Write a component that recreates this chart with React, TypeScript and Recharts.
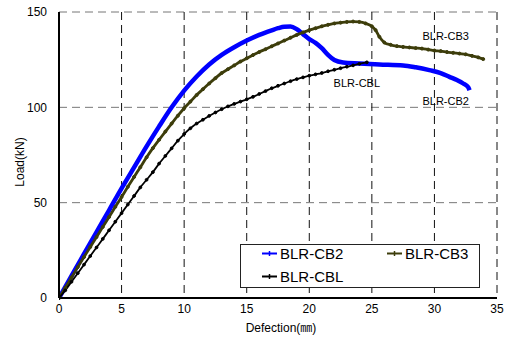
import { LineChart, Line, XAxis, YAxis, CartesianGrid, Legend, ReferenceDot } from 'recharts';

// deflection (mm) / load (kN)
const cb2X = [0, 1, 2, 3, 4, 5, 6, 7, 8, 9, 10, 11, 12, 13, 14, 15, 16, 17, 17.5, 18, 18.5, 19, 19.5, 20, 20.5, 21, 21.5, 22, 22.7, 24, 25.6, 27.5, 28.5, 29.6, 30.5, 31.2, 31.8, 32.3, 32.7, 32.8];
const cb2Y = [0, 11.6, 23.1, 34.6, 46, 57.5, 68.5, 79.5, 90, 100, 108.8, 116.2, 122.5, 127.5, 131.5, 135, 138, 140.4, 141.5, 142.3, 142.4, 141, 138.4, 135.8, 133.8, 131, 127.5, 124.8, 123.5, 123, 122.5, 122, 121, 119.5, 118, 116, 114.3, 112.5, 110.5, 109];

const cb3X = [0, 0.5, 1, 1.5, 2, 2.5, 3, 3.5, 4, 4.5, 5, 5.5, 6, 6.5, 7, 7.5, 8, 8.5, 9, 9.5, 10, 10.5, 11, 11.5, 12, 12.5, 13, 13.5, 14, 14.5, 15, 15.5, 16, 16.5, 17, 17.5, 18, 18.5, 19, 19.5, 20, 20.5, 21, 21.5, 22, 22.5, 23, 23.5, 24, 24.5, 25, 25.3, 25.6, 26, 26.5, 27, 27.5, 28, 28.5, 29, 29.5, 30, 30.5, 31, 31.5, 32, 32.5, 33, 33.5, 33.9];
const cb3Y = [0, 5.4, 10.8, 16.2, 21.5, 26.8, 32, 37.3, 42.5, 47.8, 53, 58.3, 63.5, 68.6, 73.8, 78.6, 83, 87.3, 91.5, 95.6, 99.5, 103, 106.5, 109.5, 112.5, 115.3, 118, 120, 122, 124, 125.7, 127.4, 129, 130.5, 132, 133.5, 135, 136.5, 138, 139.3, 140.5, 141.5, 142.5, 143.3, 144, 144.4, 144.8, 145, 144.8, 144, 142.5, 140.5, 137, 134, 132.8, 132.1, 131.7, 131.4, 131.1, 130.8, 130.3, 129.8, 129.5, 129, 128.6, 128.2, 127.8, 127, 126.2, 125.3];

const cblX = [0, 0.5, 1, 1.5, 2, 2.5, 3, 3.5, 4, 4.5, 5, 5.5, 6, 6.5, 7, 7.5, 8, 8.5, 9, 9.5, 10, 10.5, 11, 11.5, 12, 12.5, 13, 13.5, 14, 14.5, 15, 15.5, 16, 16.5, 17, 17.5, 18, 18.5, 19, 19.5, 20, 20.5, 21, 21.5, 22, 22.5, 23, 23.5, 24, 24.6];
const cblY = [0, 4, 8.5, 13, 17.5, 22, 26.5, 31, 35.5, 40, 44.5, 49, 53.5, 58, 62, 66, 70.5, 74.5, 78.5, 82.5, 86, 89, 91.5, 93.5, 95.5, 97.3, 99, 100.5, 101.8, 103, 104.2, 105.5, 107, 108.5, 110, 111.3, 112.5, 113.7, 114.8, 115.7, 116.6, 117.3, 118, 118.9, 119.7, 120.5, 121.3, 122, 122.8, 123.6];

const xTicks = [0, 5, 10, 15, 20, 25, 30, 35];
const yTicks = [0, 50, 100, 150];

// curve labels written inside the plot
const tagNames = ['BLR-CB3', 'BLR-CBL', 'BLR-CB2'];
const tagX = [30.9, 23.8, 30.9];
const tagY = [137.4, 112.9, 103.4];

const toPoints = (xs: number[], ys: number[]) => xs.map((x, i) => ({ x, y: ys[i] }));

const BLUE = '#0000ff';
const OLIVE = '#3d3d0b';
const BLACK = '#000000';
const FONT = 'Arial, "Liberation Sans", "Noto Sans CJK KR", sans-serif';

const legendItems = [
  { name: 'BLR-CB2', color: BLUE, col: 0, row: 0 },
  { name: 'BLR-CB3', color: OLIVE, col: 1, row: 0 },
  { name: 'BLR-CBL', color: BLACK, col: 0, row: 1 },
];

const renderLegend = () => (
  <svg width={240} height={44} style={{ display: 'block' }}>
    <rect x={0.5} y={0.5} width={239} height={43} fill="#fff" stroke="#222" strokeWidth={1} />
    {legendItems.map((it) => {
      const mx = it.col === 0 ? 22 : 147;
      const my = it.row === 0 ? 9.5 : 32.5;
      return (
        <g key={it.name}>
          <line x1={mx} x2={mx + 15} y1={my} y2={my} stroke={it.color} strokeWidth={2} />
          <line x1={mx + 7.5} x2={mx + 7.5} y1={my - 2.5} y2={my + 2.5} stroke={it.color} strokeWidth={1.5} />
          <text x={mx + 18} y={my + 5.5} fontSize={15} fontFamily={FONT} fill="#000">
            {it.name}
          </text>
        </g>
      );
    })}
  </svg>
);

export default function App() {
  return (
    <div style={{ position: 'absolute', left: 0, top: 0, background: '#fff' }}>
      <LineChart width={511} height={340} margin={{ top: 12, right: 14, left: 0, bottom: 0 }}>
        <CartesianGrid vertical={false} stroke="#777" strokeDasharray="8 5" xAxisId={0} yAxisId={0} />
        <CartesianGrid horizontal={false} stroke="#111" strokeDasharray="8 5" xAxisId={0} yAxisId={0} />
        <XAxis
          type="number"
          dataKey="x"
          domain={[0, 35]}
          ticks={xTicks}
          allowDataOverflow
          height={42}
          tickLine={false}
          tickSize={4}
          tickMargin={2}
          axisLine={{ stroke: '#000', strokeWidth: 2 }}
          tick={{ fontSize: 12, fontFamily: FONT, fill: '#000' }}
          label={{
            content: () => (
              <text x={281} y={332} textAnchor="middle" fontSize={12} fontFamily={FONT} fill="#000">
                Defection(㎜)
              </text>
            ),
          }}
        />
        <XAxis xAxisId="top" orientation="top" type="number" domain={[0, 35]} height={0} tick={false} tickLine={false} axisLine={{ stroke: '#000', strokeWidth: 2 }} />
        <YAxis
          type="number"
          domain={[0, 150]}
          ticks={yTicks}
          width={59}
          tickLine={false}
          tickSize={6}
          tickMargin={6}
          axisLine={{ stroke: '#000', strokeWidth: 2 }}
          tick={{ fontSize: 12, fontFamily: FONT, fill: '#000' }}
          label={{
            content: () => (
              <text x={24} y={162} transform="rotate(-90 24 162)" textAnchor="middle" fontSize={12} fontFamily={FONT} fill="#000">
                Load(kN)
              </text>
            ),
          }}
        />
        <YAxis yAxisId="right" orientation="right" type="number" domain={[0, 150]} width={0} tick={false} tickLine={false} axisLine={{ stroke: '#000', strokeWidth: 2 }} />
        <Legend
          layout="horizontal"
          verticalAlign="middle"
          align="center"
          content={renderLegend}
          wrapperStyle={{ left: 240, top: 244, width: 240, height: 44 }}
        />
        <Line data={toPoints(cb2X, cb2Y)} dataKey="y" name="BLR-CB2" type="monotone" stroke={BLUE} strokeWidth={4.5} dot={false} isAnimationActive={false} />
        <Line
          data={toPoints(cb3X, cb3Y)}
          dataKey="y"
          name="BLR-CB3"
          type="monotone"
          stroke={OLIVE}
          strokeWidth={2.8}
          dot={{ r: 1.5, fill: OLIVE, stroke: OLIVE, strokeWidth: 1 }}
          isAnimationActive={false}
        />
        <Line
          data={toPoints(cblX, cblY)}
          dataKey="y"
          name="BLR-CBL"
          type="monotone"
          stroke={BLACK}
          strokeWidth={1.8}
          dot={{ r: 1.4, fill: BLACK, stroke: BLACK, strokeWidth: 1 }}
          isAnimationActive={false}
        />
        {tagNames.map((t, i) => (
          <ReferenceDot
            key={t}
            x={tagX[i]}
            y={tagY[i]}
            r={0}
            fill="none"
            stroke="none"
            label={{ value: t, position: 'center', fontSize: 11, fontFamily: FONT, fill: '#000' }}
          />
        ))}
      </LineChart>
    </div>
  );
}
